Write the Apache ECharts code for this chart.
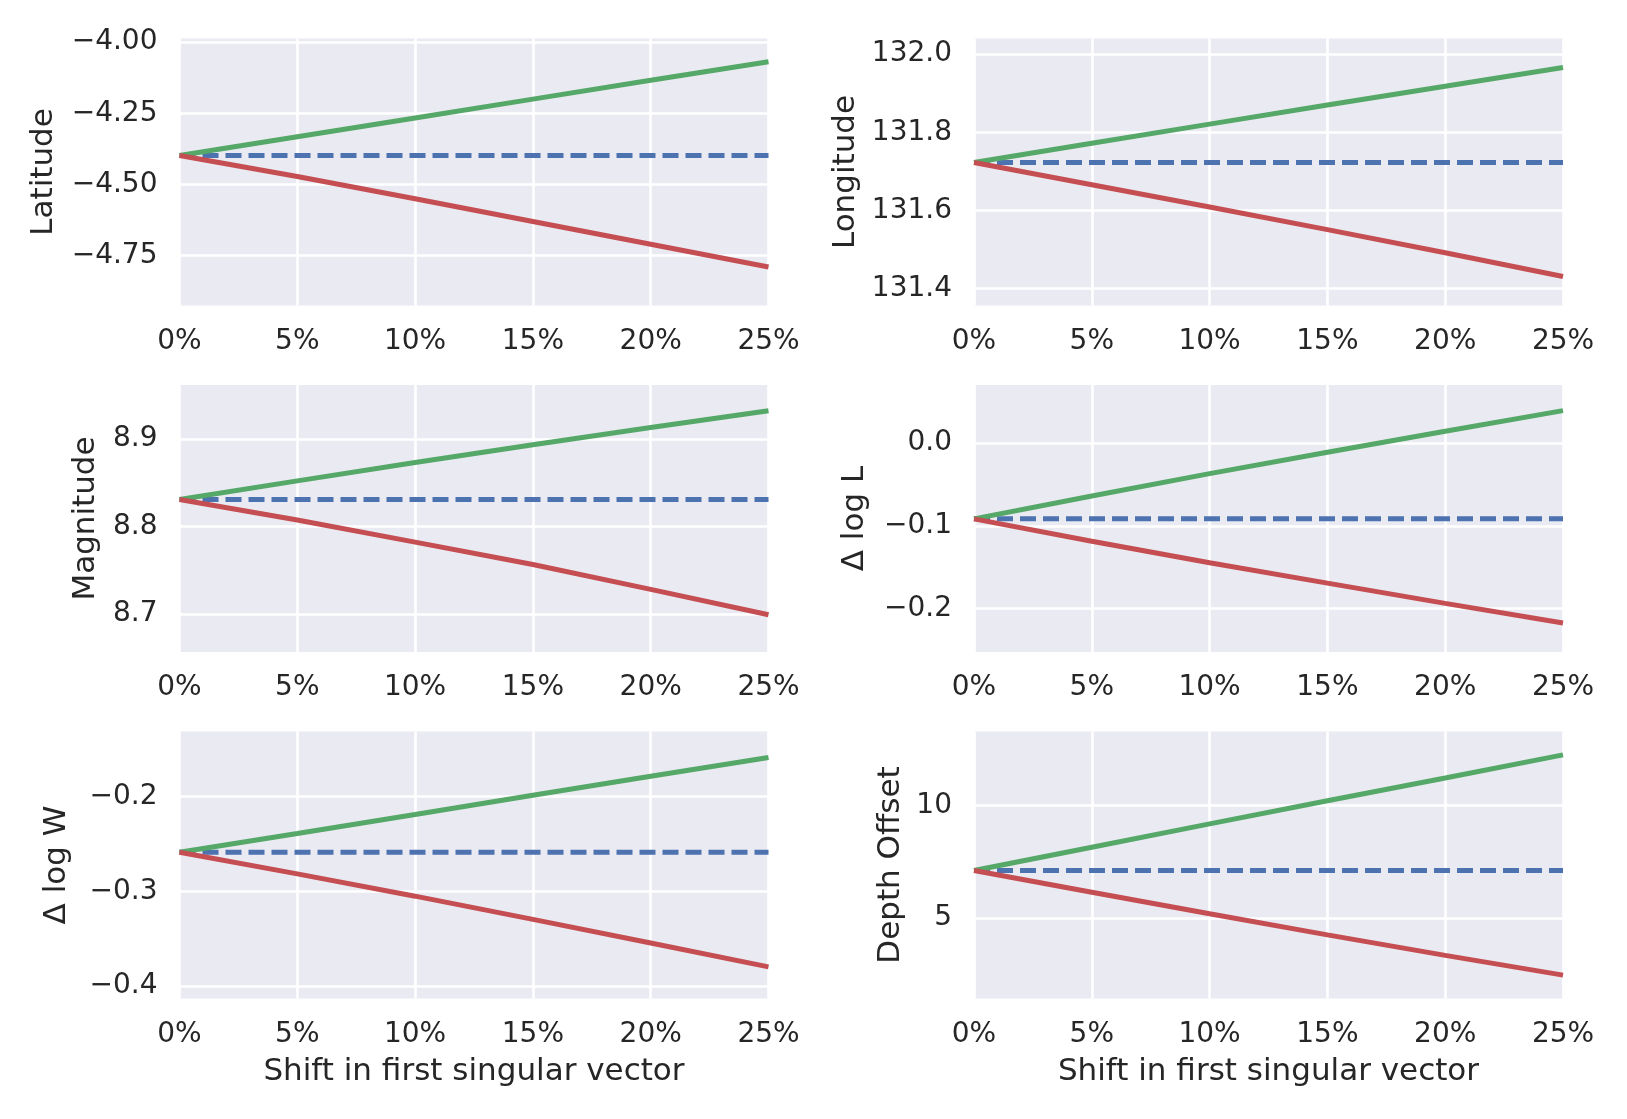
<!DOCTYPE html>
<html>
<head>
<meta charset="utf-8">
<script src="https://cdn.jsdelivr.net/npm/echarts@6/dist/echarts.min.js"></script>
<style>html,body{margin:0;padding:0;background:#fff;}#c{width:1627px;height:1119px;}</style>
</head>
<body>
<div id="c"></div>
<script>
// ---- data ----
const xShift = [0, 0.05, 0.10, 0.15, 0.20, 0.25];
const xTicks = [0, 0.05, 0.10, 0.15, 0.20, 0.25];
const xTitle = 'Shift in first singular vector';

const panelNames = ['Latitude', 'Longitude', 'Magnitude', '\u0394 log L', '\u0394 log W', 'Depth Offset'];

const latBase  = [-4.398, -4.398, -4.398, -4.398, -4.398, -4.398];
const latUp    = [-4.398, -4.332, -4.266, -4.200, -4.134, -4.069];
const latDown  = [-4.398, -4.472, -4.550, -4.630, -4.710, -4.790];
const latTicks = [-4.75, -4.50, -4.25, -4.00];

const lonBase  = [131.7226, 131.7226, 131.7226, 131.7226, 131.7226, 131.7226];
const lonUp    = [131.7226, 131.772, 131.821, 131.870, 131.918, 131.966];
const lonDown  = [131.7226, 131.666, 131.609, 131.551, 131.492, 131.431];
const lonTicks = [131.4, 131.6, 131.8, 132.0];

const magBase  = [8.8308, 8.8308, 8.8308, 8.8308, 8.8308, 8.8308];
const magUp    = [8.8308, 8.8521, 8.8730, 8.8934, 8.9131, 8.9323];
const magDown  = [8.8308, 8.8075, 8.7822, 8.7566, 8.7282, 8.6992];
const magTicks = [8.7, 8.8, 8.9];

const dlBase   = [-0.0916, -0.0916, -0.0916, -0.0916, -0.0916, -0.0916];
const dlUp     = [-0.0916, -0.0640, -0.0370, -0.0112, 0.0142, 0.0390];
const dlDown   = [-0.0916, -0.1185, -0.1446, -0.1691, -0.1935, -0.2173];
const dlTicks  = [-0.2, -0.1, 0.0];

const dwBase   = [-0.2586, -0.2586, -0.2586, -0.2586, -0.2586, -0.2586];
const dwUp     = [-0.2586, -0.2388, -0.2188, -0.1985, -0.1784, -0.1586];
const dwDown   = [-0.2586, -0.2815, -0.3050, -0.3295, -0.3545, -0.3796];
const dwTicks  = [-0.4, -0.3, -0.2];

const depBase  = [7.115, 7.115, 7.115, 7.115, 7.115, 7.115];
const depUp    = [7.115, 8.15, 9.19, 10.22, 11.23, 12.26];
const depDown  = [7.115, 6.15, 5.19, 4.25, 3.34, 2.46];
const depTicks = [5, 10];

// ---- panel config ----
const panels = [
  {name: panelNames[0], base: latBase, up: latUp, down: latDown, ticks: latTicks, dec: 2, min: -4.925, max: -3.987, gap: 120},
  {name: panelNames[1], base: lonBase, up: lonUp, down: lonDown, ticks: lonTicks, dec: 1, min: 131.357, max: 132.04, gap: 113},
  {name: panelNames[2], base: magBase, up: magUp, down: magDown, ticks: magTicks, dec: 1, min: 8.6567, max: 8.9616, gap: 78},
  {name: panelNames[3], base: dlBase, up: dlUp, down: dlDown, ticks: dlTicks, dec: 1, min: -0.2522, max: 0.0699, gap: 104},
  {name: panelNames[4], base: dwBase, up: dwUp, down: dwDown, ticks: dwTicks, dec: 1, min: -0.413, max: -0.1312, gap: 107},
  {name: panelNames[5], base: depBase, up: depUp, down: depDown, ticks: depTicks, dec: 0, min: 1.42, max: 13.30, gap: 68}
];

const colLeft = [179.5, 974];
const rowTop = [38.5, 385, 731.5];
const plotW = 589, plotH = 267;
const txt = '#262626';
const FONT = 'DejaVu Sans';
const fmtNum = (v, d) => v.toFixed(d).replace('-', '\u2212');

const grids = [], xAxes = [], yAxes = [], series = [];
panels.forEach((p, i) => {
  const col = i % 2, row = Math.floor(i / 2);
  grids.push({left: colLeft[col], top: rowTop[row], width: plotW, height: plotH,
    show: true, backgroundColor: '#EAEAF2', borderWidth: 0, containLabel: false});
  xAxes.push({
    type: 'value', gridIndex: i, min: 0, max: 0.25, interval: 0.05,
    name: row === 2 ? xTitle : '', nameLocation: 'middle', nameGap: 58,
    nameTextStyle: {fontSize: 31, color: txt, fontFamily: FONT},
    axisLine: {show: false}, axisTick: {show: false, customValues: xTicks},
    axisLabel: {customValues: xTicks, fontSize: 28, color: txt, fontFamily: FONT, margin: 22,
      formatter: v => Math.round(v * 100) + '%'},
    splitLine: {show: true, lineStyle: {color: '#ffffff', width: 2.6}}
  });
  yAxes.push({
    type: 'value', gridIndex: i, min: p.min, max: p.max,
    name: p.name, nameLocation: 'middle', nameRotate: 90, nameGap: p.gap,
    nameTextStyle: {fontSize: 31, color: txt, fontFamily: FONT},
    axisLine: {show: false}, axisTick: {show: false, customValues: p.ticks},
    axisLabel: {customValues: p.ticks, fontSize: 28, color: txt, fontFamily: FONT, margin: 22,
      formatter: (d => v => fmtNum(v, d))(p.dec)},
    splitLine: {show: true, lineStyle: {color: '#ffffff', width: 2.6}}
  });
  const mk = (vals, color, dashed) => ({
    type: 'line', xAxisIndex: i, yAxisIndex: i,
    data: xShift.map((x, k) => [x, vals[k]]),
    showSymbol: false, symbol: 'none', animation: false, silent: true,
    lineStyle: {color: color, width: 5, type: dashed ? [16, 7] : 'solid', cap: 'butt'},
    itemStyle: {color: color}
  });
  series.push(mk(p.base, '#4C72B0', true));
  series.push(mk(p.up, '#55A868', false));
  series.push(mk(p.down, '#C44E52', false));
});

const chart = echarts.init(document.getElementById('c'), null, {renderer: 'canvas'});
chart.setOption({backgroundColor: '#ffffff', animation: false,
  grid: grids, xAxis: xAxes, yAxis: yAxes, series: series});
</script>
</body>
</html>
